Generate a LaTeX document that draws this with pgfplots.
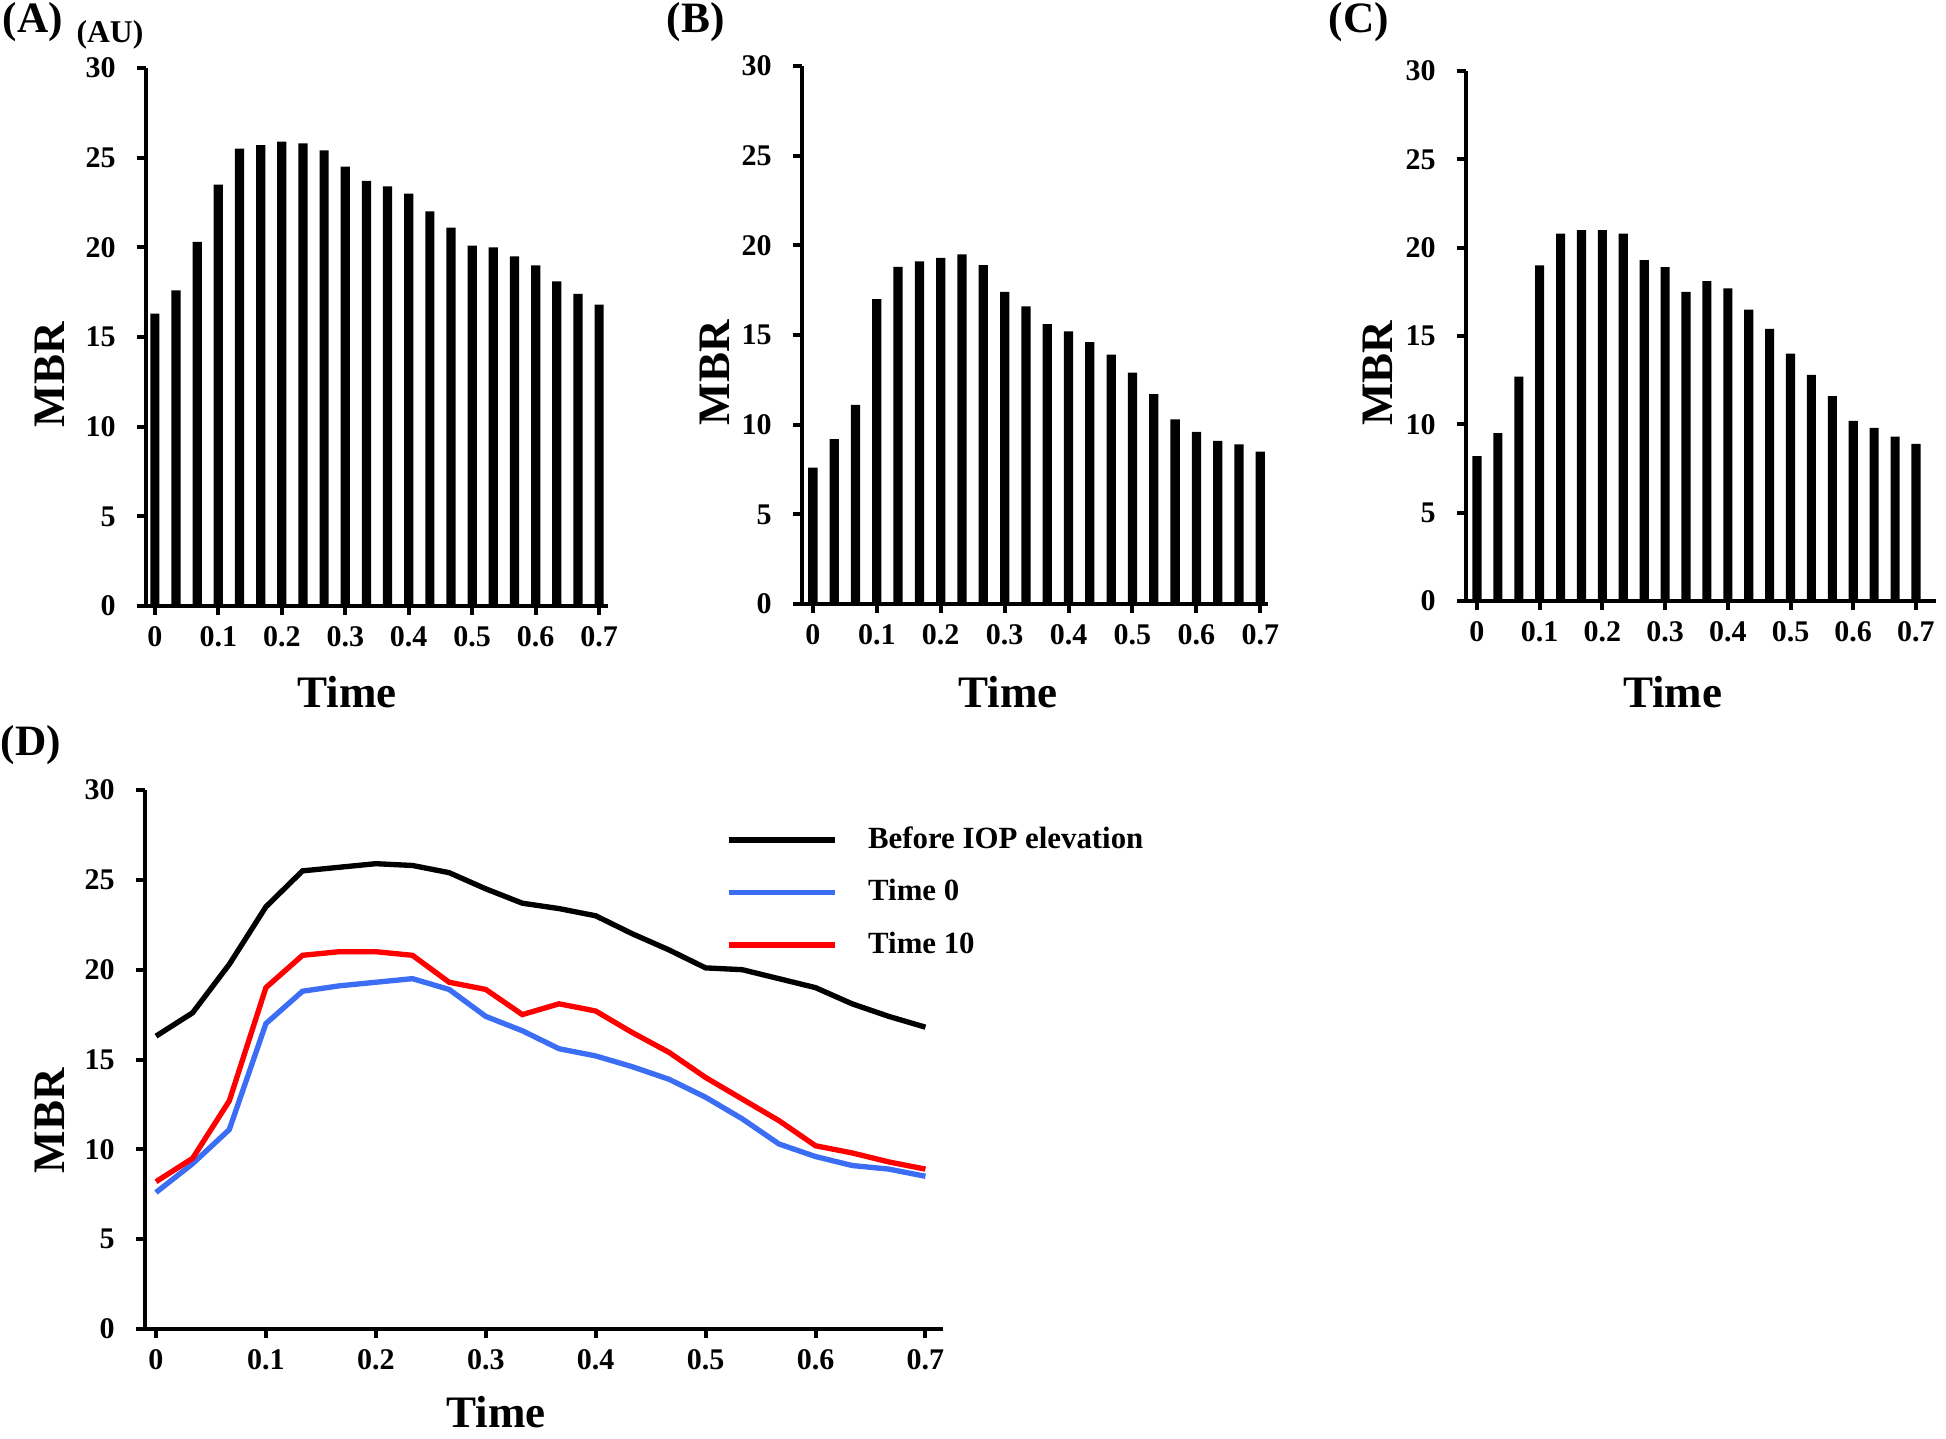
\documentclass[border=0pt]{standalone}
\usepackage{pgfplots}
\usepackage{pgfplotstable}
\usepackage{fontspec}
\setmainfont{Liberation Serif}
\pgfplotsset{compat=1.18}

\definecolor{tzero}{RGB}{60,110,245}
\definecolor{tten}{RGB}{255,0,0}

% MBR (AU) per time point: A = before IOP elevation, B = time 0, C = time 10
\pgfplotstableread{
t      A     B     C
0      16.3  7.6   8.2
0.0333 17.6  9.2   9.5
0.0667 20.3  11.1  12.7
0.1    23.5  17.0  19.0
0.1333 25.5  18.8  20.8
0.1667 25.7  19.1  21.0
0.2    25.9  19.3  21.0
0.2333 25.8  19.5  20.8
0.2667 25.4  18.9  19.3
0.3    24.5  17.4  18.9
0.3333 23.7  16.6  17.5
0.3667 23.4  15.6  18.1
0.4    23.0  15.2  17.7
0.4333 22.0  14.6  16.5
0.4667 21.1  13.9  15.4
0.5    20.1  12.9  14.0
0.5333 20.0  11.7  12.8
0.5667 19.5  10.3  11.6
0.6    19.0  9.6   10.2
0.6333 18.1  9.1   9.8
0.6667 17.4  8.9   9.3
0.7    16.8  8.5   8.9
}\mbr

\pgfplotsset{
  mbrpanel/.style={
    scale only axis,
    anchor=south west,
    axis lines=left,
    axis line style={-, line width=1.2pt},
    every tick/.style={black, line width=1.2pt},
    major tick length=2.6pt,
    tick align=outside,
    ymin=0, ymax=30, ytick={0,5,10,15,20,25,30},
    xtick={0,0.1,0.2,0.3,0.4,0.5,0.6,0.7},
    xticklabels={0,0.1,0.2,0.3,0.4,0.5,0.6,0.7},
    /pgf/number format/assume math mode=true,
    tick label style={font=\bfseries\fontsize{9}{10}\selectfont},
    yticklabel style={xshift=-3pt},
    label style={font=\bfseries\fontsize{13.5}{15}\selectfont},
    xlabel=Time, ylabel=MBR,
  },
  mbrbars/.style={ybar, bar width=0.0145, bar shift=0pt, fill=black, draw=none},
}

\begin{document}
\begin{tikzpicture}
\path (0pt,0pt) rectangle (583.8pt,429.6pt);

% (A)
\begin{axis}[mbrpanel, at={(43.8pt,247.8pt)}, width=138.6pt, height=161.4pt,
  xmin=-0.014, xmax=0.714,
  xlabel style={at={(axis description cs:0.435,0)}, anchor=center, yshift=-25.8pt},
  ylabel style={at={(axis description cs:-0.208,0.43)}, anchor=center}]
\addplot[mbrbars] table[x=t, y=A] {\mbr};
\end{axis}

% (B)
\begin{axis}[mbrpanel, at={(240.6pt,248.4pt)}, width=139.8pt, height=161.4pt,
  xmin=-0.017, xmax=0.712,
  xlabel style={at={(axis description cs:0.442,0)}, anchor=center, yshift=-26.4pt},
  ylabel style={at={(axis description cs:-0.187,0.43)}, anchor=center}]
\addplot[mbrbars] table[x=t, y=B] {\mbr};
\end{axis}

% (C)
\begin{axis}[mbrpanel, at={(439.8pt,249.3pt)}, width=141pt, height=159pt,
  xmin=-0.0175, xmax=0.732,
  xlabel style={at={(axis description cs:0.44,0)}, anchor=center, yshift=-27.3pt},
  ylabel style={at={(axis description cs:-0.187,0.43)}, anchor=center}]
\addplot[mbrbars] table[x=t, y=C] {\mbr};
\end{axis}

% (D)
\begin{axis}[mbrpanel, at={(43.5pt,30.9pt)}, width=239.4pt, height=161.7pt,
  xmin=-0.010, xmax=0.716,
  xlabel style={at={(axis description cs:0.44,0)}, anchor=center, yshift=-24.9pt},
  ylabel style={at={(axis description cs:-0.119,0.386)}, anchor=center},
  legend style={draw=none, fill=none, at={(axis description cs:0.727,0.9395)},
    anchor=north west, inner sep=0pt, row sep=5.8pt, column sep=8.3pt,
    font=\bfseries\fontsize{9.25}{11}\selectfont,
    nodes={inner sep=1pt}},
  legend cell align=left,
  legend image code/.code={\draw[#1] (0pt,0pt) -- (31.8pt,0pt);}]
\addplot[black, line width=1.6pt] table[x=t, y=A] {\mbr};
\addlegendentry{Before IOP elevation}
\addplot[tzero, line width=1.6pt] table[x=t, y=B] {\mbr};
\addlegendentry{Time 0}
\addplot[tten, line width=1.6pt] table[x=t, y=C] {\mbr};
\addlegendentry{Time 10}
\end{axis}

\node[anchor=west, font=\bfseries\fontsize{13}{15}\selectfont, inner sep=0pt] at (0.6pt,423pt) {(A)};
\node[font=\bfseries\fontsize{9.5}{11}\selectfont, inner sep=0pt] at (33pt,419pt) {(AU)};
\node[anchor=west, font=\bfseries\fontsize{13}{15}\selectfont, inner sep=0pt] at (199.8pt,423pt) {(B)};
\node[anchor=west, font=\bfseries\fontsize{13}{15}\selectfont, inner sep=0pt] at (398.4pt,423pt) {(C)};
\node[anchor=west, font=\bfseries\fontsize{13}{15}\selectfont, inner sep=0pt] at (0pt,206.1pt) {(D)};
\end{tikzpicture}
\end{document}
